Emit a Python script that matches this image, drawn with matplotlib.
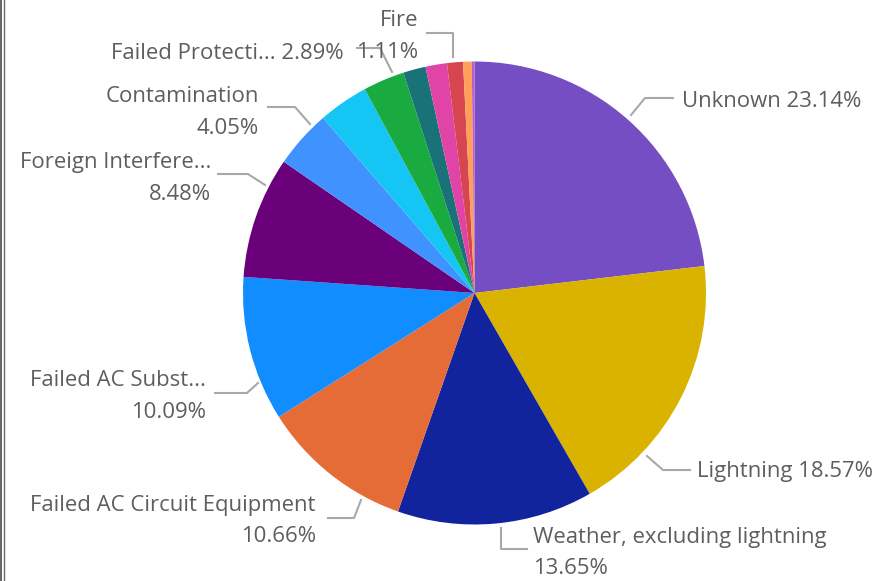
import matplotlib
matplotlib.use("Agg")
import matplotlib.pyplot as plt
from matplotlib.lines import Line2D

# ---------------- data ----------------
categories = ["Unknown", "Lightning", "Weather, excluding lightning",
              "Failed AC Circuit Equipment", "Failed AC Substation Equipment",
              "Foreign Interference", "Contamination", "Vegetation",
              "Failed Protection System Equipment", "Human Error",
              "Power System Condition", "Fire", "Environmental", "Other"]
shares = [23.14, 18.57, 13.65, 10.66, 10.09, 8.48, 4.05, 3.50, 2.89,
          1.57, 1.50, 1.11, 0.60, 0.19]
colors = ["#744EC2", "#D9B300", "#12239E", "#E66C37", "#118DFF", "#6B007B",
          "#4092FF", "#15C6F4", "#1AAB40", "#197278", "#E044A7", "#D64550",
          "#FFA058", "#BE5DC9"]
short_names = {"Failed AC Substation Equipment": "Failed AC Subst...",
               "Foreign Interference": "Foreign Interfere...",
               "Failed Protection System Equipment": "Failed Protecti..."}

# ---------------- layout (image pixel coords) ----------------
W, H = 879, 581
CX, CY, R = 474.5, 293, 231.5
# category -> (text x, text y of first line, ha, two lines?, leader points)
label_layout = {
    "Unknown": (682, 101, "left", False, [(631, 115), (645, 98), (673, 98)]),
    "Lightning": (697, 472, "left", False, [(647, 456), (663, 470), (690, 470)]),
    "Weather, excluding lightning": (533, 537, "left", True,
                                     [(501, 528), (501, 549), (527, 549)]),
    "Failed AC Circuit Equipment": (316, 505, "right", True,
                                    [(361, 500), (354, 518), (328, 518)]),
    "Failed AC Substation Equipment": (206, 381, "right", True,
                                       [(258, 383), (247, 393), (215, 393)]),
    "Foreign Interference": (211, 162, "right", True,
                             [(265, 185), (248, 174), (218, 174)]),
    "Contamination": (259, 96, "right", True,
                      [(310, 124), (295, 107), (268, 107)]),
    "Failed Protection System Equipment": (344, 53, "right", False,
                                           [(392, 72), (380, 48), (357, 48)]),
    "Fire": (418, 20, "right", True, [(453, 57), (453, 33), (427, 33)]),
}

FONT = "Open Sans"
FS = 15.9
TXT = "#605E5C"
LINE = "#A8A8A8"
LINE_GAP = 32

fig = plt.figure(figsize=(W / 100, H / 100), dpi=100)
ax = fig.add_axes([0, 0, 1, 1])


def Y(y):
    return H - y


ax.pie(shares, colors=colors, startangle=90, counterclock=False,
       center=(CX, Y(CY)), radius=R, frame=True,
       wedgeprops=dict(linewidth=0))
ax.set_xlim(0, W)
ax.set_ylim(0, H)
ax.set_aspect("equal")
ax.axis("off")

for cat, share in zip(categories, shares):
    if cat not in label_layout:
        continue
    tx, ty, ha, two, pts = label_layout[cat]
    name = short_names.get(cat, cat)
    pct = f"{share:.2f}%"
    xs = [p[0] for p in pts]
    ys = [Y(p[1]) for p in pts]
    ax.add_line(Line2D(xs, ys, color=LINE, lw=1.5, zorder=3))
    if two:
        ax.text(tx, Y(ty), name, ha=ha, va="center", fontsize=FS,
                color=TXT, family=FONT, zorder=4)
        ax.text(tx, Y(ty + LINE_GAP), pct, ha=ha, va="center", fontsize=FS,
                color=TXT, family=FONT, zorder=4)
    else:
        ax.text(tx, Y(ty), f"{name} {pct}", ha=ha, va="center", fontsize=FS,
                color=TXT, family=FONT, zorder=4)

# left frame edge
ax.add_line(Line2D([1.5, 1.5], [0, H], color="#4A4A4A", lw=1.2))
ax.add_line(Line2D([4.0, 4.0], [0, H], color="#6A6A6A", lw=1.0))

fig.savefig("out.png", dpi=100)
